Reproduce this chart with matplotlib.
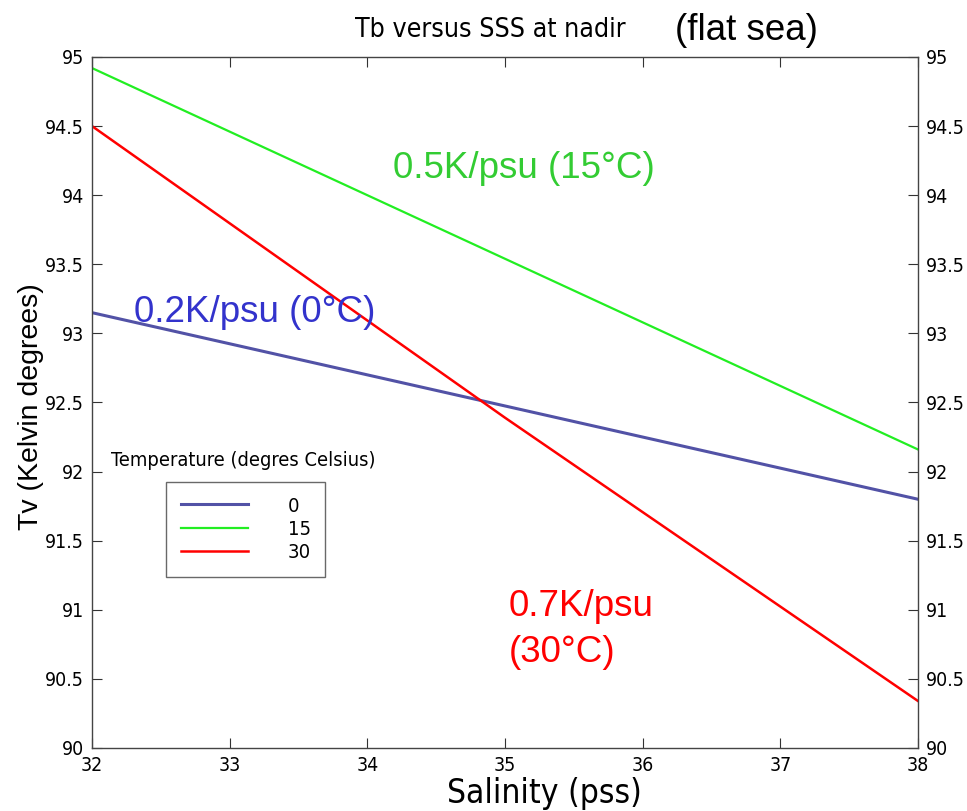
import matplotlib
matplotlib.use("Agg")
import matplotlib.pyplot as plt
from matplotlib import font_manager
from matplotlib.font_manager import FontProperties

# Data
salinity = [32, 35, 38]
tv_0 = [93.15, 92.475, 91.80]
tv_15 = [94.92, 93.54, 92.16]
tv_30 = [94.50, 92.39, 90.34]
temps = ["0", "15", "30"]
xticks = [32, 33, 34, 35, 36, 37, 38]
yticks = [90, 90.5, 91, 91.5, 92, 92.5, 93, 93.5, 94, 94.5, 95]
ytick_labels = ["90", "90.5", "91", "91.5", "92", "92.5", "93", "93.5", "94", "94.5", "95"]

# find a narrow font file if available
narrow_file = None
files = [f.fname for f in font_manager.fontManager.ttflist]
for key in ["LiberationSansNarrow-Regular", "DejaVuSansCondensed.ttf", "RobotoCondensed-Regular", "Roboto_Condensed"]:
    for fn in files:
        if key in fn:
            narrow_file = fn
            break
    if narrow_file:
        break

def nfp(size):
    if narrow_file:
        return FontProperties(fname=narrow_file, size=size)
    return FontProperties(family="Liberation Sans", size=size * 0.85)

sans = "Liberation Sans"

fig = plt.figure(figsize=(9.67, 8.11), dpi=100)
ax = fig.add_axes([92/967, 1-748/811, (918-92)/967, (748-57)/811])

ax.plot(salinity, tv_0, color="#5252a6", lw=2.2, label=temps[0])
ax.plot(salinity, tv_15, color="#22ee22", lw=1.6, label=temps[1])
ax.plot(salinity, tv_30, color="#ff0000", lw=1.8, label=temps[2])

ax.set_xlim(32, 38)
ax.set_ylim(90, 95)
ax.set_xticks(xticks)
ax.set_xticklabels([str(v) for v in xticks])
ax.set_yticks(yticks)
ax.set_yticklabels(ytick_labels)
ax.tick_params(direction="in", length=7, width=0.8, colors="#333333",
               top=True, right=True, labelright=True, pad=6)
for lab in ax.get_xticklabels() + ax.get_yticklabels():
    lab.set_fontproperties(nfp(14))
    lab.set_color("black")
for tk in ax.yaxis.get_major_ticks():
    tk.label2.set_fontproperties(nfp(14))
    tk.label2.set_color("black")
for side in ["left", "right", "top", "bottom"]:
    ax.spines[side].set_color("#444444")
    ax.spines[side].set_linewidth(1.0)

fig.text(544/967, 1-793/811, "Salinity (pss)", fontproperties=nfp(24),
         ha="center", va="center")
fig.text(31/967, 1-407/811, "Tv (Kelvin degrees)", fontsize=20.5, family=sans,
         rotation=90, ha="center", va="center")

fig.text(490/967, 1-30/811, "Tb versus SSS at nadir", fontproperties=nfp(19.2),
         ha="center", va="center")
fig.text(746/967, 1-30/811, "(flat sea)", fontsize=26.5, family=sans,
         ha="center", va="center")

ax.text(393/967, 1-169/811, "0.5K/psu (15°C)", transform=fig.transFigure, color="#33cc33",
        fontsize=26.5, family=sans, ha="left", va="center")
ax.text(134/967, 1-312/811, "0.2K/psu (0°C)", transform=fig.transFigure, color="#3333cc",
        fontsize=26.5, family=sans, ha="left", va="center")
ax.text(509/967, 1-607/811, "0.7K/psu", transform=fig.transFigure, color="#ff0000",
        fontsize=26.5, family=sans, ha="left", va="center")
ax.text(509/967, 1-652/811, "(30°C)", transform=fig.transFigure, color="#ff0000",
        fontsize=26.5, family=sans, ha="left", va="center")

ax.text(111/967, 1-460/811, "Temperature (degres Celsius)", transform=fig.transFigure,
        fontproperties=nfp(14.4), ha="left", va="center")

leg = ax.legend(loc="upper left", bbox_to_anchor=((166-92)/826, (748-482)/691),
                frameon=True, fancybox=False, edgecolor="#444444",
                prop=nfp(14.5), handlelength=3.33, borderpad=0.72, labelspacing=0.22,
                handletextpad=2.0, borderaxespad=0)
leg.get_frame().set_linewidth(1.0)

fig.savefig("out.png", dpi=100)
